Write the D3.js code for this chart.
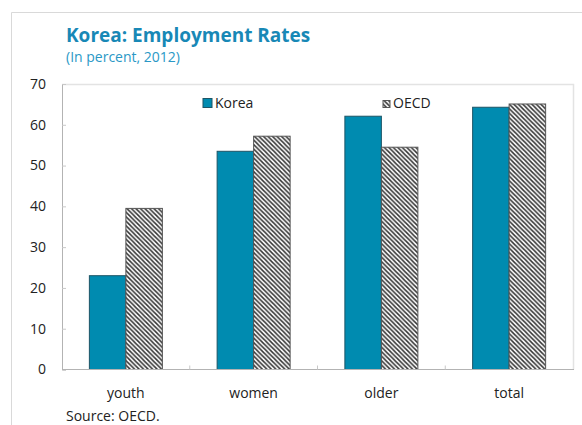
<!DOCTYPE html>
<html>
<head>
<meta charset="utf-8">
<script src="https://cdn.jsdelivr.net/npm/d3@7"></script>
<style>
  html, body { margin: 0; padding: 0; background: #fff; }
  svg { display: block; font-family: "Segoe UI", "Open Sans", "Noto Sans", sans-serif; }
</style>
</head>
<body>
<svg id="chart" width="582" height="425"></svg>
<script>
// Employment rates by group, Korea vs OECD average (percent, 2012)
const categories = ["youth", "women", "older", "total"];
const seriesNames = ["Korea", "OECD"];
const koreaValues = [23.0, 53.5, 62.1, 64.3];
const oecdValues = [39.5, 57.2, 54.5, 65.1];
const yTicks = [0, 10, 20, 30, 40, 50, 60, 70];

const svg = d3.select("#chart");
const W = 582, H = 425;
const plot = { left: 62, right: 573, top: 84, bottom: 369.5 };

// outer panel frame (top and left edges)
svg.append("path")
  .attr("d", `M11.5,${H} L11.5,12.5 L${W},12.5`)
  .attr("fill", "none").attr("stroke", "#d9d9d9").attr("stroke-width", 1);

// hatch pattern for the OECD bars
const defs = svg.append("defs");
const T = 4.5;
const pat = defs.append("pattern")
  .attr("id", "hatch").attr("patternUnits", "userSpaceOnUse")
  .attr("width", T).attr("height", T);
pat.append("rect").attr("width", T).attr("height", T).attr("fill", "#fff");
pat.append("path")
  .attr("d", `M-1,-1 L${T + 1},${T + 1} M-1,${T - 1} L1,${T + 1} M${T - 1},-1 L${T + 1},1`)
  .attr("stroke", "#333").attr("stroke-width", 1.5);

// titles
svg.append("text").attr("x", 66).attr("y", 42)
  .attr("font-size", 19).attr("font-weight", 700).attr("fill", "#1888b6")
  .text("Korea: Employment Rates");
svg.append("text").attr("x", 66).attr("y", 62)
  .attr("font-size", 14).attr("fill", "#2a98c6")
  .text("(In percent, 2012)");

const x0 = d3.scaleBand().domain(categories).range([plot.left, plot.right]).paddingInner(0).paddingOuter(0);
const barW = 36.5;
const x1 = d3.scaleBand().domain(seriesNames).range([0, barW * 2]);
const y = d3.scaleLinear().domain([0, 70]).range([plot.bottom, plot.top]);

// plot frame (top / right)
svg.append("path")
  .attr("d", `M${plot.left},${plot.top + 0.5} L${plot.right + 0.5},${plot.top + 0.5} L${plot.right + 0.5},${plot.bottom}`)
  .attr("fill", "none").attr("stroke", "#e3e3e3").attr("stroke-width", 1.5);

// bars
const rows = categories.map((c, i) => ({ cat: c, values: [koreaValues[i], oecdValues[i]] }));
const groups = svg.append("g").selectAll("g").data(rows).join("g")
  .attr("transform", d => `translate(${x0(d.cat) + (x0.bandwidth() - barW * 2) / 2},0)`);
groups.selectAll("rect").data(d => d.values.map((v, j) => ({ s: seriesNames[j], v })))
  .join("rect")
  .attr("x", d => x1(d.s))
  .attr("y", d => y(d.v))
  .attr("width", x1.bandwidth())
  .attr("height", d => y(0) - y(d.v))
  .attr("fill", d => d.s === "Korea" ? "#008bb0" : "url(#hatch)")
  .attr("stroke", d => d.s === "Korea" ? "#1d5566" : "#555")
  .attr("stroke-width", 1);

// y axis
const yAxis = svg.append("g").attr("transform", `translate(${plot.left},0)`)
  .call(d3.axisRight(y).tickValues(yTicks).tickSize(4).tickFormat(""));
yAxis.select(".domain").attr("stroke", "#b3b3b3");
yAxis.selectAll(".tick line").attr("stroke", "#c8c8c8");
svg.append("g").selectAll("text").data(yTicks).join("text")
  .attr("x", 46).attr("y", d => y(d)).attr("dy", "0.35em")
  .attr("text-anchor", "end").attr("font-size", 14).attr("fill", "#222")
  .text(d => d);

// x axis with category boundary ticks
const xAxis = svg.append("g").attr("transform", `translate(0,${plot.bottom})`);
xAxis.append("line").attr("x1", plot.left).attr("x2", plot.right + 1)
  .attr("stroke", "#b3b3b3");
xAxis.selectAll("line.b").data(categories.slice(1)).join("line").attr("class", "b")
  .attr("x1", d => x0(d)).attr("x2", d => x0(d)).attr("y1", 0).attr("y2", -4)
  .attr("stroke", "#c8c8c8");
xAxis.selectAll("text").data(categories).join("text")
  .attr("x", d => x0(d) + x0.bandwidth() / 2).attr("y", 28)
  .attr("text-anchor", "middle").attr("font-size", 14).attr("fill", "#222")
  .text(d => d);

// legend
const legend = [
  { name: "Korea", sx: 203, tx: 215, size: 9 },
  { name: "OECD", sx: 383, tx: 393, size: 7 }
];
const lg = svg.append("g").selectAll("g").data(legend).join("g");
lg.append("rect")
  .attr("x", d => d.sx).attr("y", d => 107.5 - d.size).attr("width", d => d.size).attr("height", d => d.size)
  .attr("fill", d => d.name === "Korea" ? "#008bb0" : "url(#hatch)")
  .attr("stroke", d => d.name === "Korea" ? "#1d5566" : "#555").attr("stroke-width", 1);
lg.append("text").attr("x", d => d.tx).attr("y", 108)
  .attr("font-size", 14).attr("fill", "#222").text(d => d.name);

// source note
svg.append("text").attr("x", 66).attr("y", 421)
  .attr("font-size", 14).attr("fill", "#222").text("Source: OECD.");
</script>
</body>
</html>
